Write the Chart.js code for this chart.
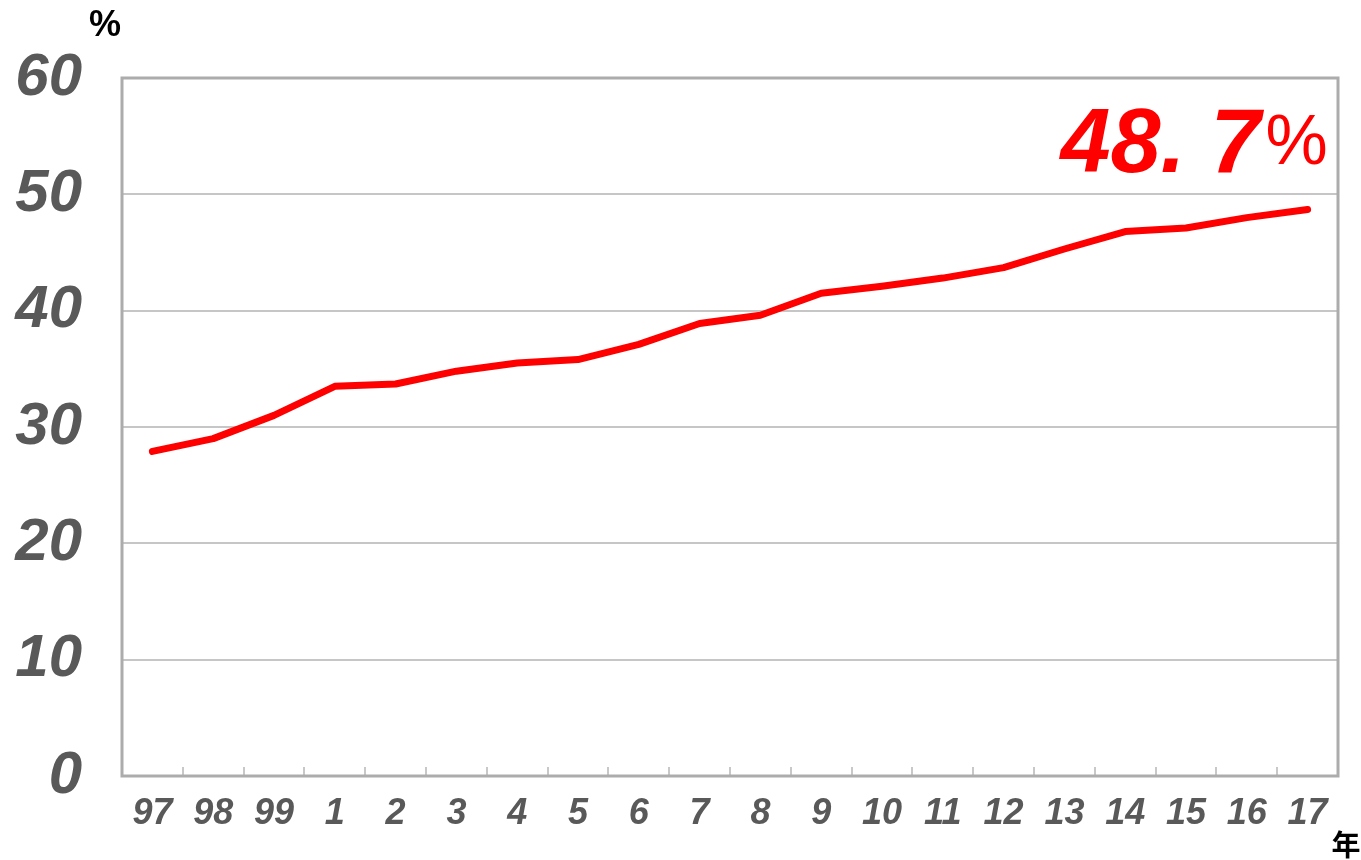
<!DOCTYPE html>
<html>
<head>
<meta charset="utf-8">
<script src="https://cdn.jsdelivr.net/npm/chart.js@4"></script>
<style>
html,body{margin:0;padding:0;background:#fff;}
#wrap{position:relative;width:1361px;height:860px;}
</style>
</head>
<body>
<div id="wrap"><canvas id="c" width="1361" height="860"></canvas></div>
<script>
const categories = ['97','98','99','1','2','3','4','5','6','7','8','9','10','11','12','13','14','15','16','17'];
const rates = [27.9,29.0,31.0,33.5,33.7,34.8,35.5,35.8,37.1,38.9,39.6,41.5,42.1,42.8,43.7,45.3,46.8,47.1,48.0,48.7];
const yTicks = [0,10,20,30,40,50,60];
const yUnit = '%';
const xUnit = '年';
const lastLabelNum = '48. 7';
const lastLabelPct = '%';

const numFont = "'Liberation Sans',sans-serif";

const framePlugin = {
  id: 'frame',
  beforeDatasetsDraw(chart) {
    const {ctx, chartArea: a, scales: {x}} = chart;
    ctx.save();
    ctx.strokeStyle = '#c8c8c8';
    ctx.lineWidth = 2;
    for (let i = 1; i < categories.length; i++) {
      const bx = (x.getPixelForValue(i - 1) + x.getPixelForValue(i)) / 2;
      ctx.beginPath();
      ctx.moveTo(Math.round(bx), a.bottom);
      ctx.lineTo(Math.round(bx), a.bottom - 9);
      ctx.stroke();
    }
    ctx.strokeStyle = '#acacac';
    ctx.lineWidth = 3;
    ctx.strokeRect(a.left, a.top, a.right - a.left, a.bottom - a.top);
    ctx.restore();
  },
  afterDraw(chart) {
    const {ctx, scales: {x, y}} = chart;
    ctx.save();
    ctx.fillStyle = '#000';
    ctx.font = "bold 36px 'Liberation Sans',sans-serif";
    ctx.textAlign = 'center';
    ctx.textBaseline = 'alphabetic';
    ctx.fillText(yUnit, 105, 36);
    ctx.font = "bold 29px 'Noto Sans CJK JP',sans-serif";
    ctx.fillText(xUnit, 1346, 856);
    const li = rates.length - 1;
    const lx = x.getPixelForValue(li);
    const ly = y.getPixelForValue(rates[li]);
    ctx.fillStyle = '#ff0000';
    ctx.textAlign = 'right';
    ctx.font = "italic bold 90px 'Liberation Sans',sans-serif";
    ctx.fillText(lastLabelNum, lx - 47, ly - 37);
    ctx.textAlign = 'left';
    ctx.font = "70px 'Liberation Sans',sans-serif";
    ctx.fillText(lastLabelPct, lx - 42, ly - 45);
    ctx.restore();
  }
};

new Chart(document.getElementById('c'), {
  type: 'line',
  data: {
    labels: categories,
    datasets: [{
      data: rates,
      borderColor: '#ff0000',
      borderWidth: 7,
      pointRadius: 0,
      fill: false,
      tension: 0,
      borderCapStyle: 'round',
      borderJoinStyle: 'round'
    }]
  },
  options: {
    responsive: false,
    animation: false,
    devicePixelRatio: 1,
    layout: { padding: { top: 78, right: 23, left: 0, bottom: 0 } },
    plugins: { legend: { display: false }, tooltip: { enabled: false } },
    scales: {
      x: {
        offset: true,
        grid: { display: false },
        border: { display: false },
        ticks: {
          color: '#595959',
          font: { family: numFont, size: 36, style: 'italic', weight: 'bold' },
          padding: 8,
          maxRotation: 0,
          autoSkip: false
        },
        afterFit(s) { s.height = 84; }
      },
      y: {
        min: 0, max: 60,
        afterBuildTicks(s) { s.ticks = yTicks.map(v => ({ value: v })); },
        grid: { color: '#c6c6c6', lineWidth: 2, drawTicks: false },
        border: { display: false },
        ticks: {
          color: '#595959',
          font: { family: numFont, size: 60, style: 'italic', weight: 'bold' },
          padding: 40
        },
        afterFit(s) { s.width = 122; }
      }
    }
  },
  plugins: [framePlugin]
});
</script>
</body>
</html>
